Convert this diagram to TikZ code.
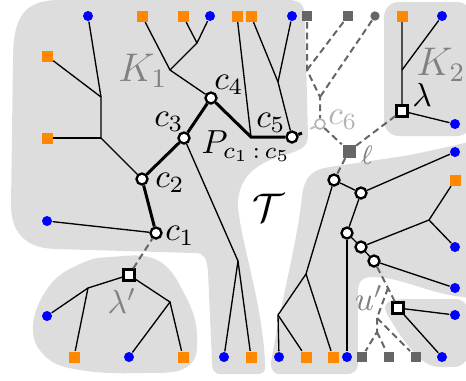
\documentclass[tikz,border=0pt]{standalone}
\usepackage{amsmath}
\usepackage{amssymb}
\usepackage{tikz}
\definecolor{lgray}{RGB}{221,221,221}
\definecolor{dgray}{RGB}{102,102,102}
\definecolor{mgray}{RGB}{128,128,128}
\definecolor{lorange}{RGB}{255,136,0}
\tikzset{
  region/.style={fill=lgray},
  bleaf/.style={circle,fill=blue,inner sep=0pt,minimum size=3pt},
  oleaf/.style={rectangle,fill=lorange,inner sep=0pt,minimum size=3.3pt},
  gleaf/.style={rectangle,fill=dgray,inner sep=0pt,minimum size=3.2pt},
  gdot/.style={circle,fill=dgray,inner sep=0pt,minimum size=2.8pt},
  pnode/.style={circle,draw,fill=white,line width=0.7pt,inner sep=0pt,minimum size=3.3pt},
  lnode/.style={rectangle,draw,fill=white,line width=0.7pt,inner sep=0pt,minimum size=3.3pt},
  hnode/.style={circle,draw=gray!60,fill=white,line width=0.5pt,inner sep=0pt,minimum size=3pt},
  pth/.style={line width=0.9pt},
  dlink/.style={draw=dgray,line width=0.6pt,dash pattern=on 2pt off 1.2pt},
  hlink/.style={draw=gray!50,line width=0.6pt,dash pattern=on 0pt off 2.8pt on 1.2pt},
  glabel/.style={text=mgray},
}

\begin{document}
\begin{tikzpicture}[x=0.3pt,y=-0.3pt]
	\useasboundingbox (0,0) rectangle (466,380);
	% grey areas
	\fill[region] (11,205) -- (13,60) .. controls (13,15) and (25,0) .. (60,0) -- (288,0) .. controls (302,0) and (305,6) .. (305,20) -- (308,135) .. controls (308,148) and (300,150) .. (285,155) .. controls (255,163) and (238,178) .. (238,205) .. controls (240,240) and (262,300) .. (265,362) .. controls (266,372) and (264,374) .. (256,374) -- (221,374) .. controls (214,374) and (212,370) .. (212,362) -- (208,272) .. controls (207,258) and (204,253) .. (195,253) -- (55,249) .. controls (25,248) and (11,232) .. (11,205) -- cycle;
	\fill[region] (271,362) -- (275,340) .. controls (283,295) and (296,245) .. (301,205) .. controls (303,180) and (308,170) .. (330,167) -- (410,155) -- (447,147) .. controls (458,145) and (462,143) .. (470,142) -- (470,298) -- (455,296) .. controls (420,290) and (400,277) .. (372,277) .. controls (362,277) and (358,282) .. (358,292) -- (358,362) .. controls (358,371) and (354,374) .. (346,374) -- (280,374) .. controls (273,374) and (271,370) .. (271,362) -- cycle;
	\fill[region,rounded corners=4.5pt] (384,2) rectangle (472,136);
	\fill[region] (385,309) .. controls (385,300) and (395,299) .. (410,299) -- (455,299) .. controls (463,299) and (468,304) .. (468,312) -- (468,352) .. controls (468,362) and (462,367) .. (452,367) -- (440,367) .. controls (425,367) and (415,355) .. (400,335) -- (388,316) .. controls (386,313) .. (385,309) -- cycle;
	\fill[region] plot[smooth cycle,tension=0.7] coordinates {(110,257) (157,260) (185,295) (197,335) (187,367) (140,373) (80,370) (45,356) (33,325) (50,285) (80,264)};

	% leaves
	\node[bleaf] (b1) at (88,16) {};
	\node[oleaf] (o1) at (142,16) {};
	\node[oleaf] (o2) at (183,16) {};
	\node[bleaf] (b2) at (210,16) {};
	\node[oleaf] (o3) at (237,16) {};
	\node[oleaf] (o4) at (251,16) {};
	\node[bleaf] (b3) at (292,16) {};
	\node[gleaf] (g1) at (307,16) {};
	\node[gleaf] (g2) at (348,16) {};
	\node[gdot] (g3) at (375,16) {};
	\node[oleaf] (o5) at (402,16) {};
	\node[bleaf] (b4) at (442,16) {};
	\node[oleaf] (o6) at (47,56) {};
	\node[oleaf] (o7) at (47,138) {};
	\node[bleaf] (b5) at (47,221) {};
	\node[bleaf] (b6) at (47,316) {};
	\node[oleaf] (o8) at (74,357) {};
	\node[bleaf] (b7) at (129,357) {};
	\node[oleaf] (o9) at (183,357) {};
	\node[bleaf] (b8) at (224,357) {};
	\node[oleaf] (o10) at (251,357) {};
	\node[bleaf] (b9) at (279,357) {};
	\node[oleaf] (o11) at (306,357) {};
	\node[oleaf] (o12) at (333,357) {};
	\node[bleaf] (b10) at (347,357) {};
	\node[gleaf] (g4) at (362,357) {};
	\node[gleaf] (g5) at (389,357) {};
	\node[gleaf] (g6) at (416,357) {};
	\node[bleaf] (b11) at (442,357) {};
	\node[bleaf] (b12) at (455,152) {};
	\node[oleaf] (o13) at (455,180) {};
	\node[bleaf] (b13) at (455,247) {};
	\node[bleaf] (b14) at (455,288) {};
	\node[bleaf] (b15) at (455,315) {};
	\node[bleaf] (b16) at (455,124) {};

	% path and inner nodes
	\node[pnode] (c1) at (156,233) {};
	\node[pnode] (c2) at (142,179) {};
	\node[pnode] (c3) at (184,138) {};
	\node[pnode] (c4) at (211,98) {};
	\node[pnode] (c5) at (292,137) {};
	\node[hnode] (c6) at (320,124) {};
	\node[pnode] (r1) at (334,180) {};
	\node[pnode] (r2) at (361,193) {};
	\node[pnode] (r3) at (347,233) {};
	\node[pnode] (r4) at (361,247) {};
	\node[pnode] (r5) at (374,261) {};
	\node[lnode] (lam) at (402,111) {};
	\node[lnode] (lamp) at (129,275) {};
	\node[lnode] (u) at (398,308) {};
	\node[gleaf,minimum size=3.9pt] (ell) at (349,151) {};

	\coordinate (ja) at (101,97);
	\coordinate (jb) at (101,138);
	\coordinate (jd) at (170,70);
	\coordinate (je) at (197,43);
	\coordinate (jf) at (238,261);
	\coordinate (jg) at (251,137);
	\coordinate (jh) at (278,82);
	\coordinate (st) at (302,133);
	\coordinate (jk) at (402,70);
	\coordinate (la) at (88,288);
	\coordinate (lb) at (170,302);
	\coordinate (jm) at (429,220);
	\coordinate (jl) at (306,274);
	\coordinate (jn) at (278,315);
	\coordinate (d1) at (307,70);
	\coordinate (d2) at (320,97);
	\coordinate (d3) at (388,288);
	\coordinate (d4) at (377,318);
	\coordinate (d5) at (377,332);

	% tree edges
	\draw (b1) -- (ja) -- (jb) -- (c2);
	\draw (o6) -- (ja);
	\draw (o7) -- (jb);
	\draw (o1) -- (jd) -- (c4);
	\draw (o2) -- (je) -- (jd);
	\draw (b2) -- (je);
	\draw (c3) -- (jf) -- (b8);
	\draw (jf) -- (o10);
	\draw (b5) -- (c1);
	\draw (o3) -- (jg);
	\draw (o4) -- (jh) -- (c5);
	\draw (b3) -- (jh);
	\draw (o5) -- (jk) -- (lam) -- (b16);
	\draw (b4) -- (jk);
	\draw (lamp) -- (la) -- (b6);
	\draw (la) -- (o8);
	\draw (lamp) -- (lb) -- (b7);
	\draw (lb) -- (o9);
	\draw (r1) -- (r2) -- (b12);
	\draw (r2) -- (r3) -- (r4) -- (jm) -- (o13);
	\draw (jm) -- (b13);
	\draw (r4) -- (r5) -- (b14);
	\draw (r3) -- (b10);
	\draw (r1) -- (jl) -- (jn) -- (b9);
	\draw (jl) -- (o12);
	\draw (jn) -- (o11);
	\draw (u) -- (b15);
	\draw (u) -- (b11);
	\draw[pth] (c1) -- (c2) -- (c3) -- (c4) -- (jg) -- (c5) -- (st);

	% dashed links
	\draw[hlink] (st) -- (c6);
	\draw[dlink] (g1) -- (d1) -- (d2) -- (c6);
	\draw[dlink] (g2) -- (d1);
	\draw[dlink] (g3) -- (d2);
	\draw[dlink] (c6) -- (ell) -- (r1);
	\draw[dlink] (lam) -- (ell);
	\draw[dlink] (lamp) -- (c1);
	\draw[dlink] (r5) -- (d3) -- (u);
	\draw[dlink] (d3) -- (d4) -- (g6);
	\draw[dlink] (d4) -- (d5) -- (g4);
	\draw[dlink] (d5) -- (g5);

	% labels
	\node[glabel,font=\large] (k1) at (143,71) {$K_1$};
	\node[glabel,font=\large] (k2) at (441,65) {$K_2$};
	\node[font=\large] (tt) at (268,208) {$\mathcal{T}$};
	\node (lc1) at (180,236) {$c_1$};
	\node (lc2) at (170,183) {$c_2$};
	\node (lc3) at (169,122) {$c_3$};
	\node (lc4) at (229,85) {$c_4$};
	\node (lc5) at (271,123) {$c_5$};
	\node[text=gray!60] (lc6) at (343,120) {$c_6$};
	\node[anchor=base west,inner sep=0pt] (lp) at (201,153) {$P_{c_1\,{:}\,c_5}$};
	\node[glabel,font=\footnotesize] (lell) at (367,155) {$\ell$};
	\node (llam) at (422,95) {$\lambda$};
	\node[glabel] (llamp) at (122,301) {$\lambda'$};
	\node[glabel] (lu) at (369,298) {$u'$};
\end{tikzpicture}
\end{document}
